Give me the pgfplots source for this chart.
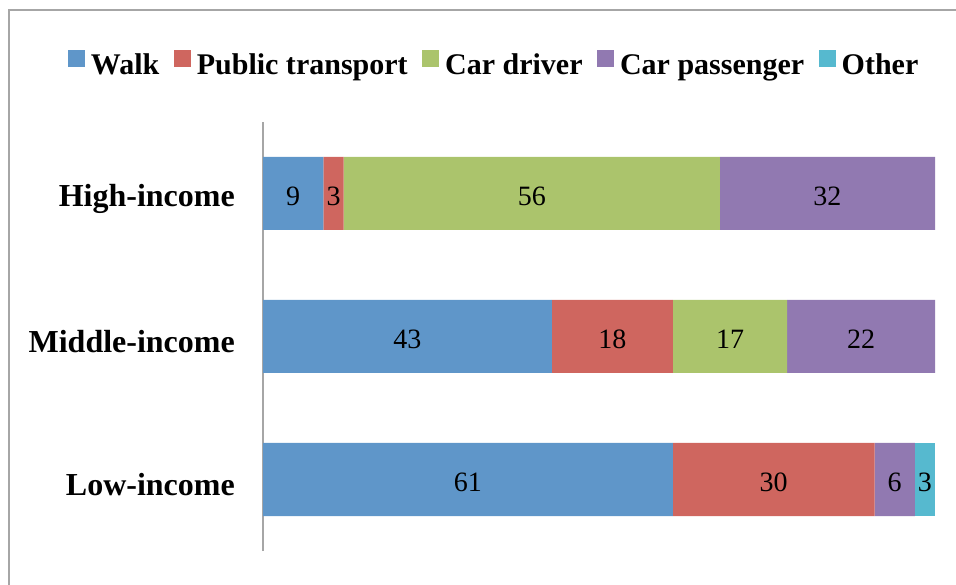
\documentclass[border=0pt]{standalone}
\usepackage{pgfplots}
\pgfplotsset{compat=1.18}
\usepackage{pgfplotstable}
\usepackage{fontspec}
\setmainfont{Liberation Serif}

\definecolor{cwalk}{HTML}{5F96C9}
\definecolor{cpt}{HTML}{CF665F}
\definecolor{cdrv}{HTML}{ABC46C}
\definecolor{cpas}{HTML}{9179B1}
\definecolor{coth}{HTML}{56B9CF}
\definecolor{cax}{HTML}{A6A6A6}

\pgfplotstableread{
y walk pt driver passenger other
0 61 30 0 6 3
1 43 18 17 22 0
2 9 3 56 32 0
}\modes

\pgfplotstableread{
x y label
4.5 2 9
10.5 2 3
40 2 56
84 2 32
21.5 1 43
52 1 18
69.5 1 17
89 1 22
30.5 0 61
76 0 30
94 0 6
98.5 0 3
}\labels

\begin{document}
\begin{tikzpicture}
\path[use as bounding box] (0,0) rectangle (956bp,585bp);
\draw[cax, line width=1.5bp] (9bp,0) -- (9bp,575bp) -- (957bp,575bp);
\begin{axis}[
  at={(263bp,34bp)}, anchor=south west,
  scale only axis, width=672bp, height=429bp,
  xbar stacked, bar width=73bp,
  xmin=0, xmax=100, ymin=-0.5, ymax=2.5,
  axis x line=none, axis y line*=left,
  axis line style={cax, line width=2bp},
  ytick={0,1,2}, yticklabels={Low-income,Middle-income,High-income},
  major tick length=0pt,
  yticklabel style={font=\fontsize{32bp}{36bp}\selectfont\bfseries, inner sep=0pt, xshift=-28bp, yshift=-5bp},
  legend columns=-1,
  legend style={at={(0.344,1.135)}, anchor=center, draw=none, fill=none,
    font=\fontsize{30bp}{36bp}\selectfont\bfseries,
    /tikz/every even column/.append style={column sep=12.5bp},
    /tikz/every odd column/.append style={column sep=4bp}},
  legend image code/.code={\fill[#1] (0bp,-2bp) rectangle (17bp,15bp);},
]
\addplot[fill=cwalk, draw=none] table[x=walk, y=y] {\modes};
\addplot[fill=cpt, draw=none] table[x=pt, y=y] {\modes};
\addplot[fill=cdrv, draw=none] table[x=driver, y=y] {\modes};
\addplot[fill=cpas, draw=none] table[x=passenger, y=y] {\modes};
\addplot[fill=coth, draw=none] table[x=other, y=y] {\modes};
\legend{Walk,Public transport,Car driver,Car passenger,Other}
\end{axis}
\begin{axis}[
  at={(263bp,34bp)}, anchor=south west,
  scale only axis, width=672bp, height=429bp,
  xmin=0, xmax=100, ymin=-0.5, ymax=2.5,
  hide axis,
]
\addplot[draw=none, mark=none, nodes near coords, point meta=explicit symbolic,
  nodes near coords style={anchor=center, inner sep=0pt, yshift=-3bp, font=\fontsize{28bp}{32bp}\selectfont}]
  table[x=x, y=y, meta=label] {\labels};
\end{axis}
\end{tikzpicture}
\end{document}
